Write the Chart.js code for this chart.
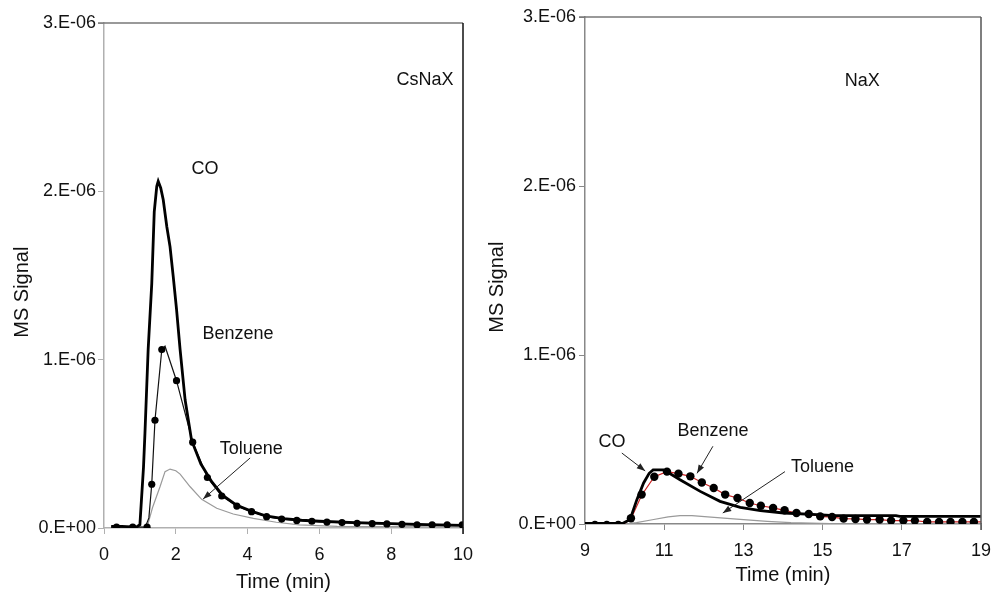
<!DOCTYPE html>
<html>
<head>
<meta charset="utf-8">
<script src="https://cdn.jsdelivr.net/npm/chart.js@4.4.1/dist/chart.umd.min.js"></script>
<style>
  html, body { margin: 0; padding: 0; background: #fff; }
  #wrap { position: relative; width: 991px; height: 594px; }
  canvas { position: absolute; top: 0; }
</style>
</head>
<body>
<div id="wrap">
  <canvas id="left" width="480" height="594" style="left:0"></canvas>
  <canvas id="right" width="511" height="594" style="left:480px"></canvas>
</div>
<script>
// values in units of 1E-06, time in minutes
const yTicks = [0, 1, 2, 3];

// CsNaX panel
const coCs = [[0.2,0.01],[0.5,0.01],[0.9,0.005],[1.0,0.02],[1.1,0.36],[1.14,0.56],[1.23,1.06],[1.33,1.45],[1.40,1.88],[1.47,2.03],[1.51,2.06],[1.58,2.02],[1.65,1.95],[1.75,1.79],[1.84,1.67],[1.93,1.49],[2.02,1.30],[2.12,1.06],[2.26,0.76],[2.44,0.52],[2.7,0.38],[3.0,0.275],[3.3,0.195],[3.7,0.135],[4.1,0.10],[4.5,0.072],[5.0,0.056],[5.5,0.046],[6.0,0.04],[7.0,0.032],[8.0,0.026],[9.0,0.02],[10.0,0.016]];
const benzeneCsLine = [[0.2,0.005],[1.15,0.005],[1.25,0.06],[1.33,0.26],[1.42,0.64],[1.61,1.06],[1.70,1.08],[2.02,0.875],[2.47,0.51],[2.88,0.30],[3.28,0.19],[3.70,0.13],[4.11,0.097],[4.53,0.067],[4.95,0.053],[5.37,0.045],[5.79,0.04],[6.21,0.035],[6.63,0.032],[7.05,0.028],[7.47,0.026],[7.88,0.024],[8.30,0.022],[8.72,0.018],[9.14,0.018],[9.56,0.018],[9.98,0.018]];
const benzeneCsDots = [[0.35,0.005],[0.80,0.005],[1.20,0.005],[1.33,0.26],[1.42,0.64],[1.61,1.06],[2.02,0.875],[2.47,0.51],[2.88,0.30],[3.28,0.19],[3.70,0.13],[4.11,0.097],[4.53,0.067],[4.95,0.053],[5.37,0.045],[5.79,0.04],[6.21,0.035],[6.63,0.032],[7.05,0.028],[7.47,0.026],[7.88,0.024],[8.30,0.022],[8.72,0.018],[9.14,0.018],[9.56,0.018],[9.98,0.018]];
const tolueneCs = [[0.2,0.005],[1.2,0.005],[1.35,0.12],[1.56,0.245],[1.70,0.335],[1.84,0.35],[2.0,0.34],[2.12,0.32],[2.40,0.245],[2.72,0.17],[3.14,0.117],[3.60,0.083],[4.16,0.057],[4.8,0.034],[5.44,0.018],[6.5,0.01],[8.0,0.008],[10.0,0.006]];

// NaX panel
const coNa = [[9.0,0.003],[9.95,0.003],[10.08,0.02],[10.18,0.055],[10.31,0.144],[10.48,0.243],[10.62,0.30],[10.72,0.32],[10.98,0.32],[11.1,0.305],[11.4,0.262],[11.91,0.193],[12.41,0.134],[12.92,0.099],[13.43,0.079],[14.02,0.065],[14.86,0.055],[15.3,0.05],[16.85,0.05],[16.95,0.045],[19.0,0.045]];
const benzeneNaLine = [[9.0,-0.003],[9.95,-0.003],[10.16,0.03],[10.43,0.17],[10.75,0.28],[11.07,0.31],[11.36,0.298],[11.66,0.282],[11.95,0.246],[12.25,0.213],[12.54,0.174],[12.85,0.154],[13.16,0.124],[13.44,0.108],[13.75,0.095],[14.04,0.081],[14.34,0.065],[14.65,0.059],[14.94,0.045],[15.24,0.041],[15.53,0.032],[15.83,0.03],[16.12,0.026],[16.44,0.026],[16.73,0.02],[17.04,0.02],[17.33,0.02],[17.64,0.012],[17.94,0.012],[18.23,0.012],[18.53,0.012],[18.82,0.012],[19.0,0.012]];
const benzeneNaDots = [[9.25,-0.005],[9.55,-0.005],[9.84,-0.005],[10.16,0.034],[10.43,0.174],[10.75,0.28],[11.07,0.31],[11.36,0.298],[11.66,0.282],[11.95,0.246],[12.25,0.213],[12.54,0.174],[12.85,0.154],[13.16,0.124],[13.44,0.108],[13.75,0.095],[14.04,0.081],[14.34,0.065],[14.65,0.059],[14.94,0.045],[15.24,0.041],[15.53,0.032],[15.83,0.03],[16.12,0.026],[16.44,0.026],[16.73,0.02],[17.04,0.02],[17.33,0.02],[17.64,0.012],[17.94,0.012],[18.23,0.012],[18.53,0.012],[18.82,0.012]];
const tolueneNa = [[9.0,0.0],[10.0,0.0],[10.3,0.008],[10.7,0.025],[11.1,0.042],[11.4,0.05],[11.7,0.05],[12.1,0.042],[12.75,0.03],[13.6,0.016],[14.2,0.008],[15.2,0.002],[19.0,0.0]];

// text notes and arrows, placed in data units
const notesCs = [["CsNaX", 8.94, 2.66], ["CO", 2.81, 2.13], ["Benzene", 3.73, 1.15], ["Toluene", 4.1, 0.47]];
const arrowsCs = [[4.07, 0.416, 2.76, 0.172]];
const notesNa = [["NaX", 16.0, 2.62], ["CO", 9.68, 0.485], ["Benzene", 12.23, 0.55], ["Toluene", 15.0, 0.337]];
const arrowsNa = [[9.93, 0.42, 10.52, 0.314], [12.23, 0.46, 11.83, 0.30], [14.05, 0.31, 12.48, 0.065]];

const FONT = "'Liberation Sans', Arial, sans-serif";
const pts = arr => arr.map(p => ({ x: p[0], y: p[1] }));

const notesPlugin = {
  id: "notes",
  afterDatasetsDraw(chart, args, opts) {
    const { ctx, scales: { x, y } } = chart;
    ctx.save();
    ctx.font = "18px " + FONT;
    ctx.fillStyle = "#111";
    ctx.textAlign = "center";
    ctx.textBaseline = "middle";
    opts.labels.forEach(l => ctx.fillText(l[0], x.getPixelForValue(l[1]), y.getPixelForValue(l[2])));
    ctx.strokeStyle = "#222";
    ctx.lineWidth = 1;
    opts.arrows.forEach(a => {
      const x1 = x.getPixelForValue(a[0]), y1 = y.getPixelForValue(a[1]);
      const x2 = x.getPixelForValue(a[2]), y2 = y.getPixelForValue(a[3]);
      const ang = Math.atan2(y2 - y1, x2 - x1);
      ctx.beginPath();
      ctx.moveTo(x1, y1);
      ctx.lineTo(x2, y2);
      ctx.stroke();
      ctx.beginPath();
      ctx.moveTo(x2, y2);
      ctx.lineTo(x2 - 9 * Math.cos(ang - 0.35), y2 - 9 * Math.sin(ang - 0.35));
      ctx.lineTo(x2 - 9 * Math.cos(ang + 0.35), y2 - 9 * Math.sin(ang + 0.35));
      ctx.closePath();
      ctx.fillStyle = "#222";
      ctx.fill();
    });
    // top and right frame
    const a = chart.chartArea;
    ctx.lineWidth = 1.5;
    ctx.strokeStyle = "#777";
    ctx.beginPath();
    ctx.moveTo(a.left - 6, a.top);
    ctx.lineTo(a.right, a.top);
    ctx.stroke();
    ctx.strokeStyle = opts.rightColor;
    ctx.beginPath();
    ctx.moveTo(a.right, a.top);
    ctx.lineTo(a.right, a.bottom + 6);
    ctx.stroke();
    ctx.restore();
  }
};

function makeChart(id, cfg) {
  const axisColor = cfg.axisColor;
  return new Chart(document.getElementById(id), {
    type: "scatter",
    data: {
      // first dataset is painted last (on top)
      datasets: [
        { data: pts(cfg.benzeneDots), showLine: false, pointRadius: cfg.dotR, pointBackgroundColor: "#000", pointBorderWidth: 0 },
        { data: pts(cfg.co), showLine: true, borderColor: "#000", borderWidth: 2.8, pointRadius: 0 },
        { data: pts(cfg.benzeneLine), showLine: true, borderColor: cfg.benzeneColor, borderWidth: 1.2, pointRadius: 0 },
        { data: pts(cfg.toluene), showLine: true, borderColor: "#9a9a9a", borderWidth: 1.2, pointRadius: 0 }
      ]
    },
    options: {
      responsive: false,
      animation: false,
      events: [],
      layout: { padding: { top: cfg.top, right: cfg.right, left: 0, bottom: 0 } },
      plugins: {
        legend: { display: false },
        tooltip: { enabled: false },
        notes: { labels: cfg.notes, arrows: cfg.arrows, rightColor: cfg.rightColor }
      },
      scales: {
        x: {
          type: "linear",
          min: cfg.xMin, max: cfg.xMax,
          afterBuildTicks: s => { s.ticks = cfg.xTicks.map(v => ({ value: v })); },
          afterFit: s => { s.height = cfg.xH; s.paddingLeft = 0; s.paddingRight = 0; },
          grid: { drawOnChartArea: false, drawTicks: true, tickLength: 6, color: axisColor },
          border: { display: true, color: axisColor, width: 1.5 },
          ticks: { color: "#111", font: { family: FONT, size: 18 }, padding: 10, maxRotation: 0 },
          title: { display: true, text: "Time (min)", color: "#111", font: { family: FONT, size: 20 }, padding: { top: 0, bottom: cfg.xTitlePad } }
        },
        y: {
          min: 0, max: 3,
          afterBuildTicks: s => { s.ticks = yTicks.map(v => ({ value: v })); },
          afterFit: s => { s.width = cfg.yW; s.paddingTop = 0; s.paddingBottom = 0; },
          grid: { drawOnChartArea: false, drawTicks: true, tickLength: 6, color: axisColor },
          border: { display: true, color: axisColor, width: 1.5 },
          ticks: {
            color: "#111", font: { family: FONT, size: 18 }, padding: cfg.yTickPad,
            callback: v => v === 0 ? "0.E+00" : v + ".E-06"
          },
          // trailing spaces nudge the rotated title a little below the axis middle
          title: { display: true, text: "MS Signal" + "\u00a0".repeat(6), color: "#111", font: { family: FONT, size: 20 }, padding: { top: cfg.yTitlePad, bottom: 0 } }
        }
      }
    },
    plugins: [notesPlugin]
  });
}

makeChart("left", {
  co: coCs, benzeneLine: benzeneCsLine, benzeneDots: benzeneCsDots, toluene: tolueneCs,
  benzeneColor: "#111", dotR: 3.6, notes: notesCs, arrows: arrowsCs,
  xMin: 0, xMax: 10, xTicks: [0, 2, 4, 6, 8, 10],
  top: 23, right: 17, xH: 66, yW: 104, yTickPad: 2, yTitlePad: 10, xTitlePad: 0,
  axisColor: "#b0b0b0", rightColor: "#111"
});

makeChart("right", {
  co: coNa, benzeneLine: benzeneNaLine, benzeneDots: benzeneNaDots, toluene: tolueneNa,
  benzeneColor: "#cc2222", dotR: 4.2, notes: notesNa, arrows: arrowsNa,
  xMin: 9, xMax: 19, xTicks: [9, 11, 13, 15, 17, 19],
  top: 17, right: 10, xH: 70, yW: 105, yTickPad: 3, yTitlePad: 5, xTitlePad: 7,
  axisColor: "#888", rightColor: "#555"
});
</script>
</body>
</html>
